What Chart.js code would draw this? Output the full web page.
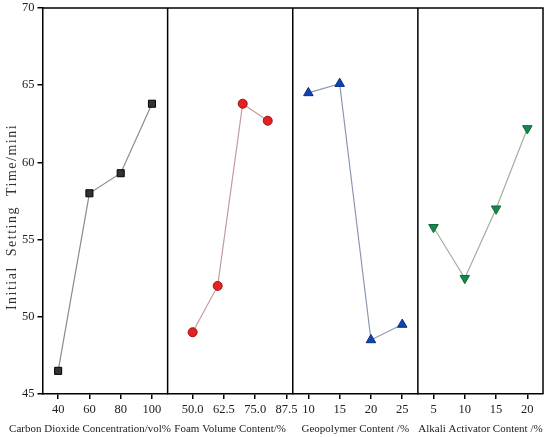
<!DOCTYPE html>
<html>
<head>
<meta charset="utf-8">
<script src="https://cdn.jsdelivr.net/npm/chart.js@4"></script>
<style>
  body { margin: 0; background: #fff; }
  #wrap { width: 550px; height: 437px; }
</style>
</head>
<body>
<div id="wrap"><canvas id="chart"></canvas></div>
<script>
// data
const co2X = [40, 60, 80, 100];
const co2Y = [46.5, 58.0, 59.3, 63.8];
const foamX = [50, 60, 70, 80];
const foamY = [49.0, 52.0, 63.8, 62.7];
const geoX = [10, 15, 20, 25];
const geoY = [64.5, 65.1, 48.5, 49.5];
const alkX = [5, 10, 15, 20];
const alkY = [55.8, 52.5, 57.0, 62.2];

const co2Ticks = [40, 60, 80, 100];
const foamTicks = [50, 62.5, 75, 87.5];
const geoTicks = [10, 15, 20, 25];
const alkTicks = [5, 10, 15, 20];
const yTicks = [45, 50, 55, 60, 65, 70];

const xTitles = [
  'Carbon Dioxide Concentration/vol%',
  'Foam Volume Content/%',
  'Geopolymer Content /%',
  'Alkali Activator Content /%'
];
const yTitle = 'Initial  Setting  Time/mini';

function pts(xs, ys) {
  return xs.map((x, i) => ({x: x, y: ys[i]}));
}

const font = {family: 'Liberation Serif', size: 12.5};

function noPad(s) {
  s.paddingLeft = 0;
  s.paddingRight = 0;
  s.paddingTop = 0;
  s.paddingBottom = 0;
}

function xAxis(min, max, ticks, fmt) {
  return {
    type: 'linear',
    position: 'bottom',
    stack: 'panels',
    stackWeight: 1,
    min: min,
    max: max,
    afterBuildTicks: s => { s.ticks = ticks.map(v => ({value: v})); },
    afterFit: noPad,
    grid: {drawOnChartArea: false, tickLength: 5, color: '#000', lineWidth: 1.5},
    border: {color: '#000', width: 1.5},
    ticks: {
      font: font, color: '#222', padding: 3, maxRotation: 0, autoSkip: false,
      callback: v => fmt ? v.toFixed(1) : v
    }
  };
}

// frame, panel dividers and the axis titles (titles are wider than the panels)
const framePlugin = {
  id: 'frame',
  afterDraw(chart) {
    const ctx = chart.ctx;
    const a = chart.chartArea;
    ctx.save();
    ctx.strokeStyle = '#000';
    ctx.lineWidth = 1.5;
    ctx.beginPath();
    ctx.moveTo(a.left, a.top);
    ctx.lineTo(a.right, a.top);
    ctx.lineTo(a.right, a.bottom);
    ['x1', 'x2', 'x3'].forEach(id => {
      const s = chart.scales[id];
      ctx.moveTo(s.right, a.top);
      ctx.lineTo(s.right, a.bottom);
    });
    ctx.stroke();

    ctx.fillStyle = '#222';
    ctx.font = '11px "Liberation Serif"';
    ctx.textAlign = 'center';
    ctx.textBaseline = 'middle';
    ['x1', 'x2', 'x3', 'x4'].forEach((id, i) => {
      const s = chart.scales[id];
      const cx = (s.left + s.right) / 2 - (i === 0 ? 15 : 0);
      ctx.fillText(xTitles[i], cx, chart.height - 8);
    });

    ctx.translate(12, (a.top + a.bottom) / 2 + 16);
    ctx.rotate(-Math.PI / 2);
    ctx.font = '14px "Liberation Serif"';
    ctx.fillStyle = '#333';
    if ('letterSpacing' in ctx) ctx.letterSpacing = '1.5px';
    ctx.fillText(yTitle, 0, 0);
    ctx.restore();
  }
};

new Chart(document.getElementById('chart'), {
  type: 'scatter',
  data: {
    datasets: [
      {
        data: pts(co2X, co2Y), xAxisID: 'x1', showLine: true,
        borderColor: '#8a8a8a', borderWidth: 1.2,
        pointStyle: 'rect', pointRadius: 5, pointBackgroundColor: '#333', pointBorderColor: '#000', pointBorderWidth: 1
      },
      {
        data: pts(foamX, foamY), xAxisID: 'x2', showLine: true,
        borderColor: '#c49a9a', borderWidth: 1.2,
        pointStyle: 'circle', pointRadius: 4.5, pointBackgroundColor: '#e52222', pointBorderColor: '#a01010', pointBorderWidth: 1
      },
      {
        data: pts(geoX, geoY), xAxisID: 'x3', showLine: true,
        borderColor: '#8a96b0', borderWidth: 1.2,
        pointStyle: 'triangle', pointRadius: 5.5, pointBackgroundColor: '#1244b0', pointBorderColor: '#0a2f80', pointBorderWidth: 1
      },
      {
        data: pts(alkX, alkY), xAxisID: 'x4', showLine: true,
        borderColor: '#9fb0a2', borderWidth: 1.2,
        pointStyle: 'triangle', rotation: 180, pointRadius: 5.5, pointBackgroundColor: '#15884a', pointBorderColor: '#0c6a36', pointBorderWidth: 1
      }
    ]
  },
  options: {
    responsive: true,
    maintainAspectRatio: false,
    animation: false,
    layout: {padding: {top: 8, right: 7, left: 19, bottom: 17}},
    plugins: {legend: {display: false}, tooltip: {enabled: false}},
    scales: {
      x1: xAxis(30, 110, co2Ticks, false),
      x2: xAxis(40, 90, foamTicks, true),
      x3: xAxis(7.5, 27.5, geoTicks, false),
      x4: xAxis(2.5, 22.5, alkTicks, false),
      y: {
        min: 45, max: 70,
        afterBuildTicks: s => { s.ticks = yTicks.map(v => ({value: v})); },
        afterFit: noPad,
        grid: {drawOnChartArea: false, tickLength: 5, color: '#000', lineWidth: 1.5},
        border: {color: '#000', width: 1.5},
        ticks: {font: font, color: '#222', padding: 3}
      }
    }
  },
  plugins: [framePlugin]
});
</script>
</body>
</html>
